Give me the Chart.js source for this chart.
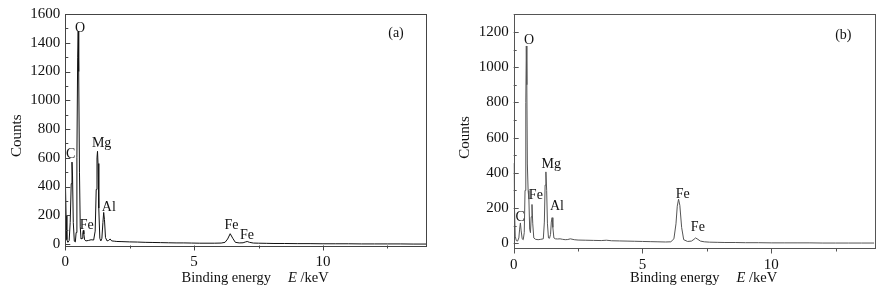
<!DOCTYPE html>
<html>
<head>
<meta charset="utf-8">
<script src="https://cdn.jsdelivr.net/npm/chart.js@4"></script>
<style>
  html, body { margin: 0; padding: 0; background: #fff; }
  #wrap { position: relative; width: 891px; height: 294px; }
  .pane { position: absolute; top: 0; height: 294px; }
</style>
</head>
<body>
<div id="wrap">
  <div class="pane" style="left:0;width:445px"><canvas id="ca"></canvas></div>
  <div class="pane" style="left:445px;width:446px"><canvas id="cb"></canvas></div>
</div>
<script>
// ---------- data: panel (a) ----------
const energyA = [0, 0.03, 0.06, 0.1, 0.15, 0.19, 0.23, 0.26, 0.28, 0.31, 0.35, 0.39, 0.42, 0.45, 0.48, 0.5, 0.52, 0.55, 0.58, 0.61, 0.65, 0.68, 0.7, 0.72, 0.75, 0.8, 0.9, 1.0, 1.1, 1.16, 1.2, 1.23, 1.25, 1.27, 1.3, 1.34, 1.38, 1.42, 1.46, 1.49, 1.52, 1.56, 1.62, 1.68, 1.74, 1.8, 1.9, 2.0, 2.2, 2.5, 2.8, 3.1, 3.4, 3.7, 4.0, 4.3, 4.6, 4.9, 5.2, 5.5, 5.8, 6.05, 6.2, 6.3, 6.4, 6.5, 6.6, 6.75, 6.9, 7.0, 7.06, 7.15, 7.3, 7.5, 7.8, 8.1, 8.5, 9.0, 9.5, 10.0, 10.5, 11.0, 11.5, 12.0, 12.5, 13.0, 13.5, 14.0];
const countsA = [470, 200, 30, 12, 25, 150, 420, 570, 480, 150, 20, 15, 80, 600, 1300, 1480, 1200, 500, 120, 35, 40, 80, 95, 70, 30, 22, 25, 30, 28, 90, 380, 600, 645, 560, 250, 40, 22, 40, 150, 220, 170, 45, 22, 25, 35, 22, 20, 18, 17, 15, 14, 12, 11, 10, 9, 8, 8, 7, 6, 6, 6, 7, 12, 35, 72, 40, 12, 8, 9, 15, 18, 12, 7, 6, 5, 4, 4, 3, 3, 2, 2, 2, 1, 1, 1, 1, 0, 0];
const yTicksA = [0, 200, 400, 600, 800, 1000, 1200, 1400, 1600];
const peakNamesA = ["O", "C", "Mg", "Al", "Fe", "Fe", "Fe"];
const peakXA = [0.57, 0.21, 1.41, 1.69, 0.83, 6.45, 7.05];
const peakYA = [1500, 623, 702, 255, 128, 128, 58];

// ---------- data: panel (b) ----------
const energyB = [0, 0.03, 0.06, 0.1, 0.15, 0.2, 0.23, 0.26, 0.29, 0.33, 0.37, 0.41, 0.44, 0.47, 0.49, 0.51, 0.53, 0.56, 0.59, 0.62, 0.65, 0.68, 0.71, 0.74, 0.78, 0.85, 0.95, 1.05, 1.15, 1.19, 1.22, 1.25, 1.28, 1.31, 1.35, 1.39, 1.43, 1.46, 1.49, 1.52, 1.56, 1.62, 1.7, 1.8, 1.9, 2.0, 2.1, 2.2, 2.35, 2.5, 2.8, 3.1, 3.4, 3.6, 3.8, 4.1, 4.4, 4.7, 5.0, 5.3, 5.6, 5.9, 6.1, 6.22, 6.3, 6.35, 6.4, 6.45, 6.52, 6.6, 6.75, 6.9, 7.0, 7.06, 7.12, 7.25, 7.4, 7.6, 7.9, 8.2, 8.6, 9.0, 9.5, 10.0, 10.5, 11.0, 11.5, 12.0, 12.5, 13.0, 13.5, 14.0];
const countsB = [455, 200, 40, 15, 12, 30, 80, 115, 70, 25, 20, 60, 300, 800, 1120, 900, 450, 300, 250, 80, 60, 150, 220, 110, 30, 22, 20, 22, 25, 120, 330, 405, 300, 110, 30, 28, 50, 120, 145, 90, 30, 25, 24, 25, 22, 20, 21, 25, 20, 18, 17, 16, 15, 17, 14, 13, 12, 11, 10, 9, 8, 7, 8, 25, 110, 210, 250, 215, 90, 20, 10, 12, 22, 30, 25, 12, 8, 6, 5, 4, 4, 3, 3, 2, 2, 2, 2, 1, 1, 1, 1, 1];
const yTicksB = [0, 200, 400, 600, 800, 1000, 1200];
const peakNamesB = ["O", "C", "Mg", "Al", "Fe", "Fe", "Fe"];
const peakXB = [0.60, 0.25, 1.46, 1.68, 0.86, 6.56, 7.15];
const peakYB = [1153, 147, 450, 207, 274, 280, 88];

const xTicks = [0, 5, 10];
const xMinorTicks = [2.5, 7.5, 12.5];
const panelLabels = ["(a)", "(b)"];

const FONT = "'Liberation Serif', 'Times New Roman', serif";

function pts(xs, ys) { return xs.map((x, i) => ({ x: x, y: ys[i] })); }

function makeChart(id, cfg) {
  const decor = {
    id: 'decor',
    afterDraw(chart) {
      const ctx = chart.ctx;
      const a = chart.chartArea;
      const xs = chart.scales.x, ys = chart.scales.y;
      ctx.save();
      // frame
      ctx.strokeStyle = cfg.frameColor;
      ctx.lineWidth = 1;
      ctx.strokeRect(Math.round(a.left) + 0.5, Math.round(a.top) + 0.5,
                     Math.round(a.right - a.left), Math.round(a.bottom - a.top));
      // y ticks (inward)
      ctx.beginPath();
      const yStep = cfg.yTicks[1] - cfg.yTicks[0];
      for (let v = 0; v <= ys.max; v += yStep / 2) {
        const py = Math.round(ys.getPixelForValue(v)) + 0.5;
        const len = (v % yStep === 0) ? 5 : 3;
        ctx.moveTo(a.left, py); ctx.lineTo(a.left + len, py);
      }
      // x ticks (outward)
      xTicks.forEach(v => {
        const px = Math.round(xs.getPixelForValue(v)) + 0.5;
        ctx.moveTo(px, a.bottom); ctx.lineTo(px, a.bottom + 5);
      });
      xMinorTicks.forEach(v => {
        const px = Math.round(xs.getPixelForValue(v)) + 0.5;
        ctx.moveTo(px, a.bottom); ctx.lineTo(px, a.bottom + 3);
      });
      ctx.stroke();
      // peak labels
      ctx.fillStyle = '#111';
      ctx.font = '14px ' + FONT;
      ctx.textAlign = 'center';
      ctx.textBaseline = 'middle';
      cfg.names.forEach((n, i) => {
        ctx.fillText(n, xs.getPixelForValue(cfg.px[i]), ys.getPixelForValue(cfg.py[i]));
      });
      // panel label
      ctx.fillText(cfg.panel, a.right - cfg.panelDx, a.top + cfg.panelDy);
      // y title
      ctx.font = '15px ' + FONT;
      ctx.save();
      ctx.translate(cfg.yTitleX, (a.top + a.bottom) / 2 + 6);
      ctx.rotate(-Math.PI / 2);
      ctx.fillText('Counts', 0, 0);
      ctx.restore();
      // x title
      ctx.font = '14.5px ' + FONT;
      ctx.textAlign = 'left';
      const t1 = 'Binding energy';
      const tx = cfg.xTitleX, ty = 278;
      ctx.fillText(t1, tx, ty);
      const w1 = ctx.measureText(t1).width;
      ctx.font = 'italic 14.5px ' + FONT;
      const ex = tx + w1 + 17;
      ctx.fillText('E', ex, ty);
      const we = ctx.measureText('E').width;
      ctx.font = '14.5px ' + FONT;
      ctx.fillText(' /keV', ex + we, ty);
      ctx.restore();
    }
  };
  return new Chart(document.getElementById(id), {
    type: 'line',
    data: {
      datasets: [{
        data: pts(cfg.energy, cfg.counts),
        borderColor: cfg.lineColor,
        borderWidth: 1,
        pointRadius: 0,
        tension: 0,
        fill: false
      }]
    },
    options: {
      responsive: true,
      maintainAspectRatio: false,
      animation: false,
      events: [],
      layout: { padding: { left: 0, right: cfg.padRight, top: cfg.padTop, bottom: 0 } },
      plugins: { legend: { display: false }, tooltip: { enabled: false } },
      scales: {
        x: {
          type: 'linear',
          min: 0, max: 14,
          grid: { display: false, drawTicks: false },
          border: { display: false },
          ticks: { color: '#111', font: { family: FONT, size: 15 }, padding: 8, maxRotation: 0,
                   callback: v => String(v) },
          afterBuildTicks: s => { s.ticks = xTicks.map(v => ({ value: v })); },
          afterFit: s => { s.height = cfg.xHeight; }
        },
        y: {
          type: 'linear',
          min: cfg.yMin, max: cfg.yMax,
          grid: { display: false, drawTicks: false },
          border: { display: false },
          ticks: { color: '#111', font: { family: FONT, size: 15 }, padding: 5,
                   callback: v => String(v) },
          afterBuildTicks: s => { s.ticks = cfg.yTicks.map(v => ({ value: v })); },
          afterFit: s => { s.width = cfg.yWidth; }
        }
      }
    },
    plugins: [decor]
  });
}

makeChart('ca', {
  energy: energyA, counts: countsA, lineColor: '#111', frameColor: '#444',
  yMin: -10, yMax: 1600, yTicks: yTicksA,
  names: peakNamesA, px: peakXA, py: peakYA, panel: panelLabels[0],
  padRight: 19, padTop: 14, xHeight: 48.5, yWidth: 65.3,
  panelDx: 30, panelDy: 19, yTitleX: 17, xTitleX: 181.5
});
makeChart('cb', {
  energy: energyB, counts: countsB, lineColor: '#555', frameColor: '#555',
  yMin: -30, yMax: 1300, yTicks: yTicksB,
  names: peakNamesB, px: peakXB, py: peakYB, panel: panelLabels[1],
  padRight: 16.7, padTop: 14.3, xHeight: 45.5, yWidth: 68.7,
  panelDx: 31, panelDy: 21, yTitleX: 20, xTitleX: 185
});
</script>
</body>
</html>
